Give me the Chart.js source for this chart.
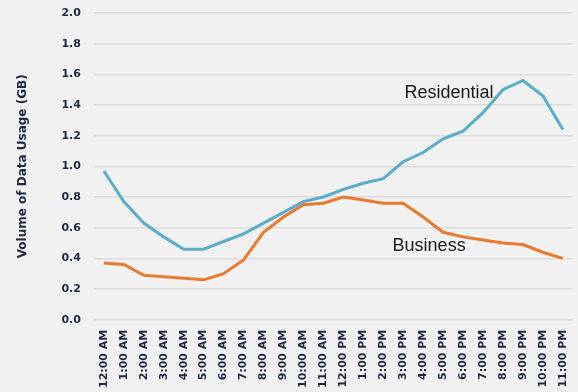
<!DOCTYPE html>
<html>
<head>
<meta charset="utf-8">
<script src="https://cdn.jsdelivr.net/npm/chart.js@4"></script>
<style>
  html, body { margin: 0; padding: 0; background: #f1f1f1; }
  #wrap { width: 578px; height: 392px; }
</style>
</head>
<body>
<div id="wrap"><canvas id="myChart" width="578" height="392"></canvas></div>
<script>
const hours = [
  "12:00 AM", "1:00 AM", "2:00 AM", "3:00 AM", "4:00 AM", "5:00 AM",
  "6:00 AM", "7:00 AM", "8:00 AM", "9:00 AM", "10:00 AM", "11:00 AM",
  "12:00 PM", "1:00 PM", "2:00 PM", "3:00 PM", "4:00 PM", "5:00 PM",
  "6:00 PM", "7:00 PM", "8:00 PM", "9:00 PM", "10:00 PM", "11:00 PM"
];
const residential = [0.97, 0.77, 0.63, 0.54, 0.46, 0.46, 0.51, 0.56, 0.63, 0.70, 0.77, 0.80,
                     0.85, 0.89, 0.92, 1.03, 1.09, 1.18, 1.23, 1.35, 1.50, 1.56, 1.46, 1.24];
const business = [0.37, 0.36, 0.29, 0.28, 0.27, 0.26, 0.30, 0.39, 0.57, 0.67, 0.75, 0.76,
                  0.80, 0.78, 0.76, 0.76, 0.67, 0.57, 0.54, 0.52, 0.50, 0.49, 0.44, 0.40];
const yTicks = [0, 0.2, 0.4, 0.6, 0.8, 1.0, 1.2, 1.4, 1.6, 1.8, 2.0];

const navy = "#1c2846";

// text labels next to the lines
const lineLabels = {
  id: "lineLabels",
  afterDatasetsDraw(chart) {
    const { ctx, scales } = chart;
    ctx.save();
    ctx.fillStyle = "#1a1a1a";
    ctx.font = "18px 'Liberation Sans', Arial, sans-serif";
    ctx.textAlign = "center";
    ctx.textBaseline = "middle";
    ctx.fillText("Residential", scales.x.getPixelForValue(17.3), scales.y.getPixelForValue(1.48));
    ctx.fillText("Business", scales.x.getPixelForValue(16.3), scales.y.getPixelForValue(0.48));
    ctx.restore();
  }
};

new Chart(document.getElementById("myChart"), {
  type: "line",
  data: {
    labels: hours,
    datasets: [
      {
        label: "Residential",
        data: residential,
        borderColor: "#5aadc9",
        borderWidth: 3,
        pointRadius: 0,
        tension: 0
      },
      {
        label: "Business",
        data: business,
        borderColor: "#e8792f",
        borderWidth: 3,
        pointRadius: 0,
        tension: 0
      }
    ]
  },
  options: {
    responsive: false,
    animation: false,
    layout: { padding: { top: 13, left: 12, right: 0, bottom: 2 } },
    plugins: {
      legend: { display: false },
      tooltip: { enabled: false }
    },
    scales: {
      x: {
        offset: true,
        grid: { display: false },
        border: { display: false },
        ticks: {
          color: navy,
          minRotation: 90,
          maxRotation: 90,
          autoSkip: false,
          padding: 2,
          font: { family: "'DejaVu Sans'", weight: "bold", size: 11 }
        }
      },
      y: {
        min: 0,
        max: 2,
        afterBuildTicks(axis) {
          axis.ticks = yTicks.map((v) => ({ value: v }));
        },
        afterFit(axis) {
          axis.paddingTop = 0;
        },
        grid: { color: "#dcdcdc", lineWidth: 1.5, drawTicks: false },
        border: { display: false },
        ticks: {
          color: navy,
          padding: 13,
          callback: (v) => Number(v).toFixed(1),
          font: { family: "'DejaVu Sans'", weight: "bold", size: 11 }
        },
        title: {
          display: true,
          text: "Volume of Data Usage (GB)",
          color: navy,
          padding: { bottom: 18 },
          font: { family: "'DejaVu Sans'", weight: "bold", size: 12 }
        }
      }
    }
  },
  plugins: [lineLabels]
});
</script>
</body>
</html>
